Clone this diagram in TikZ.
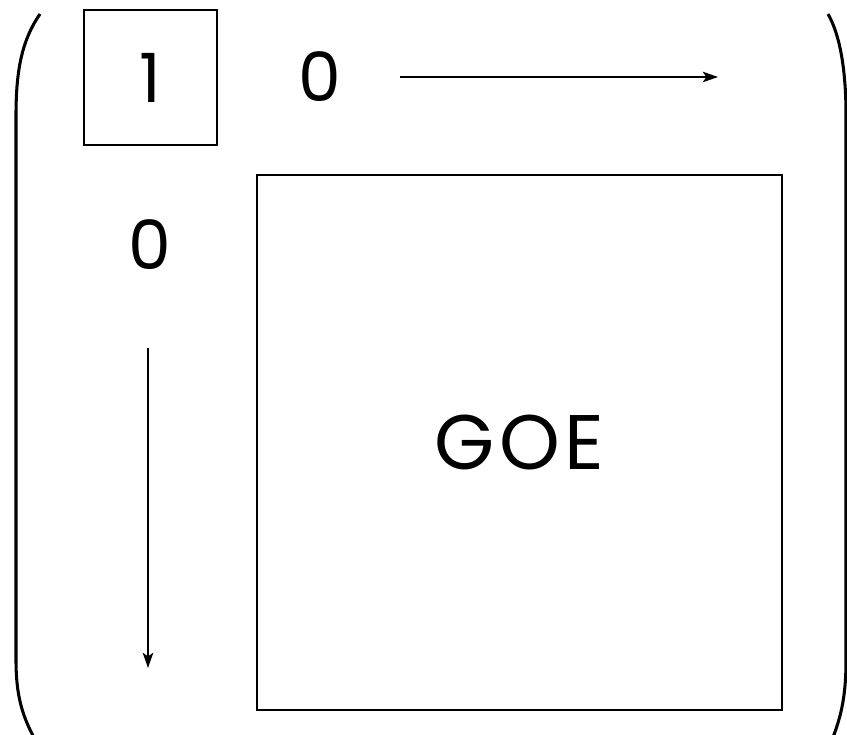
\documentclass[tikz,border=0pt]{standalone}
\usepackage{fontspec}
\setmainfont{Poppins}
\usetikzlibrary{calc,positioning,arrows.meta}
\tikzset{
    >={Stealth[length=13pt,width=9pt,inset=3pt]},
    entry/.style={
        font=\fontsize{58}{70}\selectfont,
        inner sep=0pt
    },
    label entry/.style={
        font=\fontsize{66}{78}\selectfont\addfontfeature{LetterSpace=6},
        inner sep=0pt
    },
    blockbox/.style={
        rectangle,
        draw=black, line width=1.3pt,
        inner sep=0pt
    },
    line/.style={draw, line width=1.3pt, ->},
    paren/.style={draw, line width=2.6pt}
}
\begin{document}
\begin{tikzpicture}[x=0.03cm,y=-0.03cm]
    \useasboundingbox (0,0) rectangle (847,734);
    % the matrix brackets
    \draw[paren] (40,14) .. controls (22,40) and (16,70) .. (16,115) -- (16,660)
        .. controls (16,700) and (24,720) .. (38,745);
    \draw[paren] (828,14) .. controls (840,35) and (846,70) .. (846,115) -- (846,660)
        .. controls (846,700) and (840,720) .. (830,745);
    % first row and column
    \node[blockbox, minimum width=133*0.03cm, minimum height=135*0.03cm] (one box) at (150.5,77.5) {};
    \node[entry] (one) at (one box.center) {1};
    \node[entry] (row zero) at (320,77) {0};
    \node[entry] (col zero) at (150,245) {0};
    \coordinate (row start) at (400,77);
    \coordinate (row end) at (718,77);
    \coordinate (col start) at (148,348);
    \coordinate (col end) at (148,668);
    \draw[line] (row start) -- (row end);
    \draw[line] (col start) -- (col end);
    % the big block
    \node[blockbox, minimum width=525*0.03cm, minimum height=535*0.03cm] (goe box) at (519.5,442.5) {};
    \node[label entry] (goe) at (goe box.center) {GOE};
\end{tikzpicture}
\end{document}
